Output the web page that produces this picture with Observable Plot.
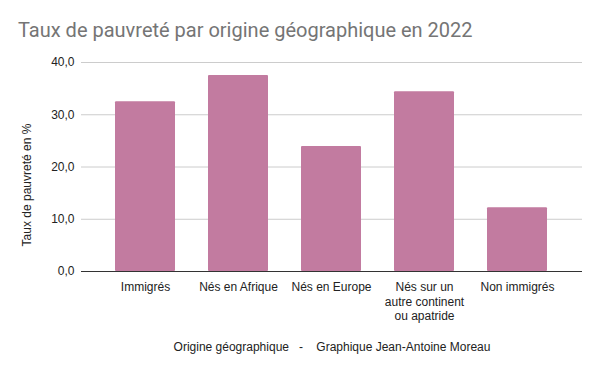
<!DOCTYPE html>
<html><head><meta charset="utf-8">
<script src="https://cdn.jsdelivr.net/npm/d3@7"></script>
<script src="https://cdn.jsdelivr.net/npm/@observablehq/plot@0.6"></script>
<style>
body{margin:0;background:#fff;}
#wrap{position:relative;width:600px;height:371px;overflow:hidden;}
#title{position:absolute;left:18px;top:18px;font:20px Roboto,sans-serif;color:#757575;white-space:nowrap;}
#chart{position:absolute;left:0;top:0;}
</style></head><body>
<div id="wrap"><div id="chart"></div><div id="title">Taux de pauvreté par origine géographique en 2022</div></div>
<script>
const categories = ["Immigrés","Nés en Afrique","Nés en Europe","Nés sur un\nautre continent\nou apatride","Non immigrés"];
const values = [32.5, 37.5, 23.9, 34.4, 12.2];
const yTicks = [0,10,20,30,40];
const data = categories.map((c,i)=>({c, v: values[i]}));
const fmt = d => d.toFixed(1).replace(".", ",");
const font = "'Liberation Sans', Arial, sans-serif";
const chart = Plot.plot({
  width: 600, height: 371,
  marginLeft: 81, marginRight: 18, marginTop: 62, marginBottom: 100,
  style: {fontFamily: font, fontSize: "12px", color: "#222", background: "#fff"},
  x: {domain: categories, padding: 0.35, axis: null},
  y: {domain: [0,40], axis: null},
  marks: [
    Plot.gridY(yTicks, {stroke: "#ccc", strokeOpacity: 1}),
    Plot.axisY(yTicks, {tickSize: 0, tickPadding: 7, tickFormat: fmt, label: null, fontSize: 12, fill: "#222"}),
    Plot.barY(data, {x: "c", y: "v", fill: "#c27ba0", rx: 1}),
    Plot.ruleY([0], {stroke: "#333"}),
    Plot.axisX({tickSize: 0, tickPadding: 10, label: null, fontSize: 12, fill: "#222", lineHeight: 1.17}),
    Plot.text(["Taux de pauvreté en %"], {frameAnchor: "left", textAnchor: "middle", rotate: -90, dx: -54, dy: 18, fontSize: 12, fill: "#222"}),
    Plot.text(["Origine géographique   -    Graphique Jean-Antoine Moreau"], {frameAnchor: "bottom", dx: 0, dy: 79, fontSize: 12, fill: "#222"})
  ]
});
chart.querySelectorAll("text").forEach(t=>t.setAttribute("xml:space","preserve"));
chart.style.whiteSpace = "pre";
document.getElementById("chart").appendChild(chart);
</script>
</body></html>
